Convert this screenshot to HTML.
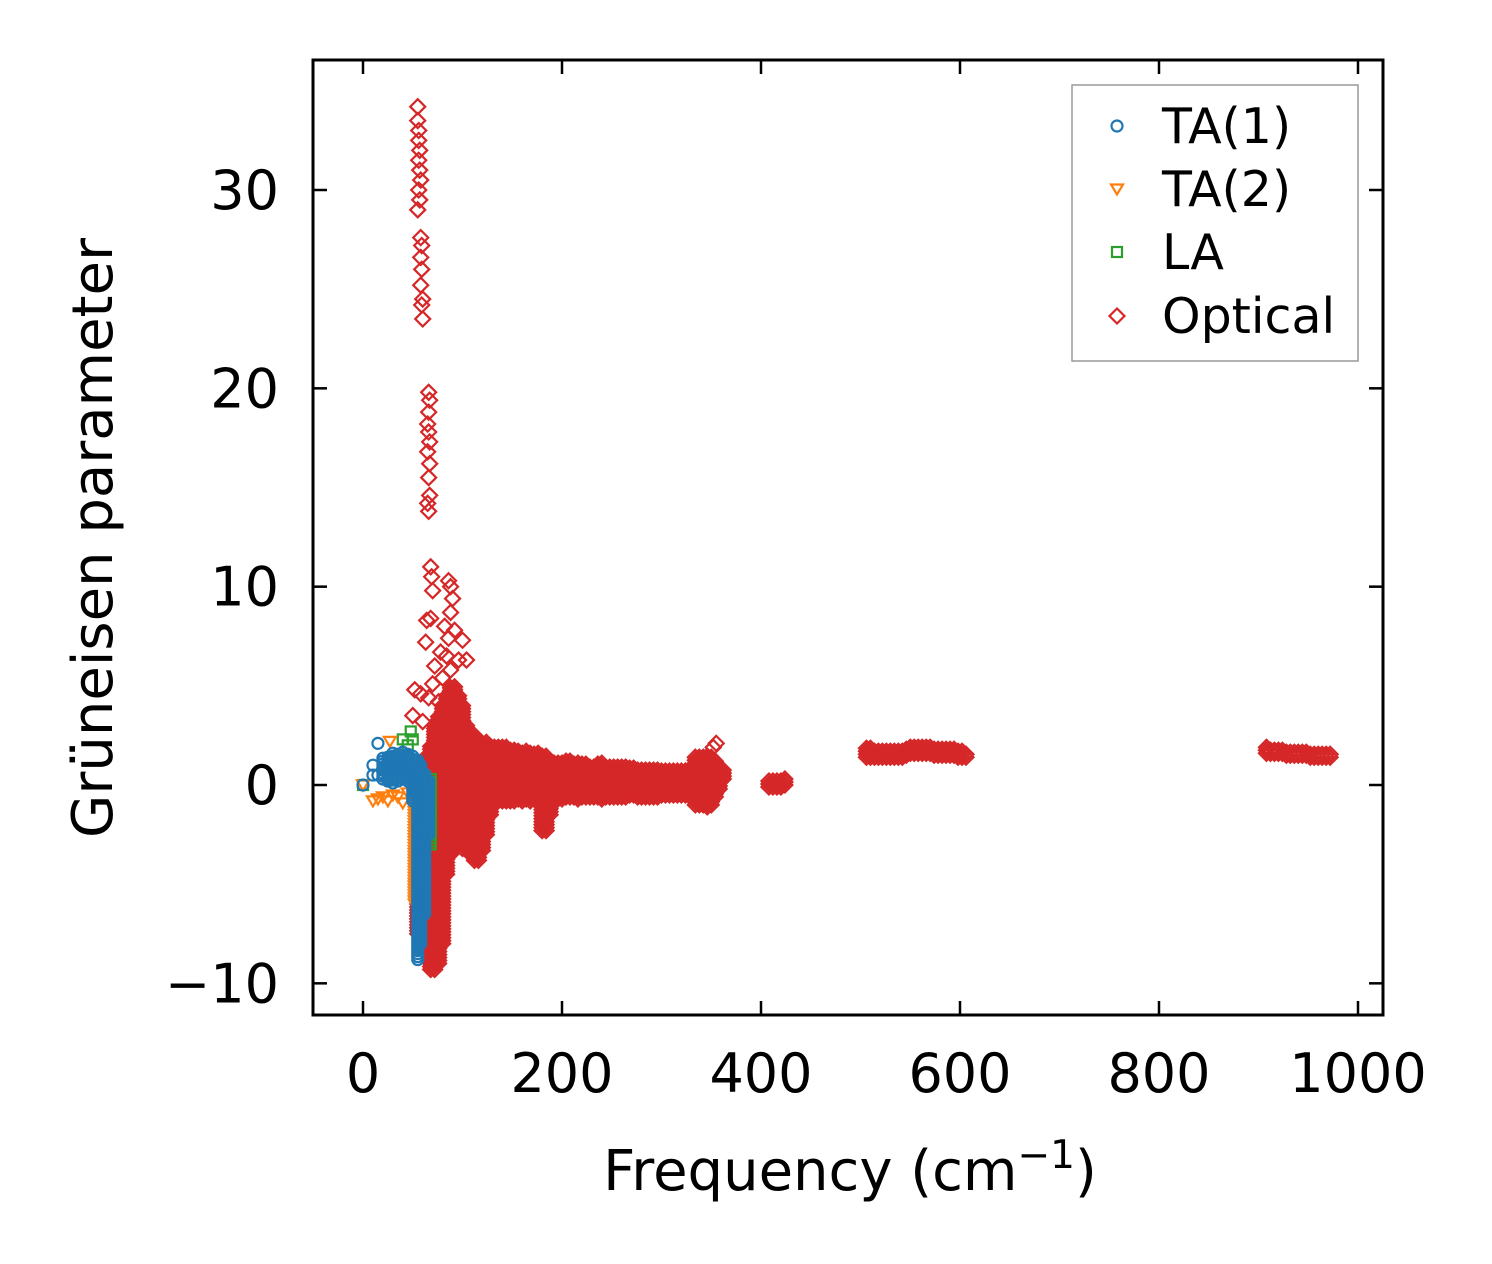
<!DOCTYPE html>
<html><head><meta charset="utf-8">
<style>
body{margin:0;background:#fff}
svg{display:block;font-family:"DejaVu Sans","Liberation Sans",sans-serif}
</style></head>
<body>
<svg id="chart" width="1492" height="1264" viewBox="0 0 1492 1264" xmlns="http://www.w3.org/2000/svg">
<rect width="1492" height="1264" fill="#fff"/>
<g id="marks"></g>
<g id="axes"></g>
</svg>
<script>
const xTicks=[0,200,400,600,800,1000];
const yTicks=[-10,0,10,20,30];
const yTickLabels=["\u221210","0","10","20","30"];
// Band envelopes: [frequency, gammaMin, gammaMax]
const opticalBands=[[55,-7.5,0.5],[60,-8,1],[64,-5,1.5],[68,-9.3,2],[72,-9.3,3],[76,-9,3.5],[80,-8,4],[84,-4.5,4.5],[88,-3.5,5],[92,-3,5],[96,-3,4.5],[100,-3.2,4],[104,-3,3],[108,-3.5,2.5],[112,-3.8,2.5],[116,-3.8,2.3],[120,-3.3,2.2],[124,-2.5,2.2],[128,-1.5,2],[132,-0.8,2],[136,-0.8,2],[140,-0.8,1.9],[144,-0.8,1.9],[148,-0.8,1.8],[152,-0.8,1.8],[156,-0.7,1.8],[160,-0.8,1.7],[164,-0.7,1.7],[168,-0.8,1.7],[172,-0.7,1.6],[176,-0.8,1.6],[180,-2.3,1.5],[184,-2.3,1.5],[188,-1.5,1.3],[192,-0.7,1.2],[196,-0.7,1.2],[200,-0.7,1.2],[204,-0.6,1.2],[208,-0.6,1.2],[212,-0.6,1.1],[216,-0.7,1.1],[220,-0.6,1.1],[224,-0.6,1.1],[228,-0.6,1.0],[232,-0.6,1.0],[236,-0.6,1.1],[240,-0.7,1.1],[244,-0.6,1.0],[248,-0.6,1.0],[252,-0.6,0.9],[256,-0.6,0.9],[260,-0.6,0.9],[264,-0.6,0.9],[268,-0.5,0.9],[272,-0.5,0.9],[276,-0.6,0.8],[280,-0.6,0.8],[284,-0.6,0.8],[288,-0.6,0.8],[292,-0.6,0.8],[296,-0.6,0.8],[300,-0.5,0.8],[304,-0.5,0.8],[308,-0.5,0.8],[312,-0.5,0.8],[316,-0.5,0.7],[320,-0.5,0.7],[324,-0.5,0.7],[328,-0.5,0.8],[334,-1,1.5],[338,-1,1.5],[342,-1,1.5],[346,-1.1,1.5],[350,-1,1.4],[354,-0.6,1.2],[358,-0.2,0.9],[362,0.3,0.8],[408,-0.1,0.3],[412,-0.1,0.3],[416,-0.1,0.3],[420,-0.1,0.3],[424,0,0.3],[506,1.4,1.9],[510,1.4,1.9],[514,1.4,1.8],[518,1.4,1.8],[522,1.4,1.8],[526,1.4,1.8],[530,1.4,1.8],[534,1.4,1.8],[538,1.4,1.7],[542,1.4,1.7],[546,1.5,1.8],[550,1.6,2.0],[554,1.6,2.0],[558,1.6,2.0],[562,1.6,2.0],[566,1.6,1.9],[570,1.6,1.9],[574,1.5,1.9],[578,1.5,1.9],[582,1.5,1.8],[586,1.5,1.8],[590,1.5,1.8],[594,1.5,1.8],[598,1.4,1.7],[602,1.4,1.7],[606,1.4,1.6],[908,1.6,1.9],[912,1.6,1.8],[916,1.6,1.8],[920,1.6,1.8],[924,1.6,1.8],[928,1.5,1.7],[932,1.5,1.7],[936,1.5,1.7],[940,1.5,1.7],[944,1.5,1.7],[948,1.5,1.7],[952,1.4,1.6],[956,1.4,1.6],[960,1.4,1.6],[964,1.4,1.6],[968,1.4,1.6],[972,1.4,1.6]];
const opticalPoints=[[55,34.2],[55,33.5],[56,33],[56,32.5],[57,32],[56,31.5],[57,31],[58,30.5],[56,30],[57,29.5],[55,29],[58,27.6],[59,27.2],[58,26.6],[59,26],[58,25.2],[60,24.5],[59,24.2],[60,23.5],[66,19.8],[67,19.4],[66,18.8],[65,18.2],[66,17.8],[67,17.3],[65,16.8],[67,16.2],[66,15.5],[67,14.6],[65,14.2],[66,13.8],[68,11],[69,10.5],[86,10.3],[88,10],[70,9.8],[90,9.4],[88,8.7],[68,8.4],[64,8.3],[82,8],[92,7.8],[86,7.4],[63,7.2],[100,7.3],[78,6.7],[84,6.5],[96,6.3],[104,6.3],[72,6],[88,5.8],[80,5.4],[70,5.1],[52,4.8],[58,4.6],[66,4.4],[76,4.2],[50,3.5],[60,3.2],[352,1.9],[355,2.1]];
const ta1Bands=[[20,0.3,1.4],[25,0.2,1.5],[30,0.1,1.6],[35,0.2,1.6],[40,0.3,1.7],[45,0.2,1.6],[50,-0.8,1.5],[55,-8.8,1.3],[58,-8,1],[62,-6.5,0.6],[66,-2.5,0.3]];
const ta1Points=[[0,0],[10,0.5],[10,1],[15,2.1],[20,0.8],[25,0.3],[15,0.5],[27,1.2]];
const ta2Bands=[[52,-6,0],[58,-5,0],[62,-3,0]];
const ta2Points=[[0,0],[10,-0.8],[15,-0.7],[20,-0.6],[25,-0.8],[30,-0.5],[35,-0.6],[40,-0.9],[27,2.2],[45,-0.4]];
const laBands=[[56,-7,0.5],[62,-6,0.5],[68,-3,0.4]];
const laPoints=[[0,0],[40,2.3],[48,2.7],[50,2.3],[45,2.0]];

const X0=313,X1=1383,Y0=60,Y1=1015;
const xs=f=>363+(f-0)*(1358-363)/1000;
const ys=g=>785-g*(785-190)/30;
const NS="http://www.w3.org/2000/svg";
const marks=document.getElementById('marks');
const axes=document.getElementById('axes');
function el(t,a,p){const e=document.createElementNS(NS,t);for(const k in a)e.setAttribute(k,a[k]);p.appendChild(e);return e;}

function marker(kind,cx,cy,color,parent){
  let e;
  if(kind==='circle') e=el('circle',{cx:cx,cy:cy,r:5.5,fill:'none',stroke:color,'stroke-width':2.2},parent);
  else if(kind==='tri') e=el('polygon',{points:`${cx-6},${cy-4.5} ${cx+6},${cy-4.5} ${cx},${cy+5.5}`,fill:'none',stroke:color,'stroke-width':2.2},parent);
  else if(kind==='square') e=el('rect',{x:cx-5,y:cy-5,width:10,height:10,fill:'none',stroke:color,'stroke-width':2.2},parent);
  else e=el('polygon',{points:`${cx},${cy-7.5} ${cx+7.5},${cy} ${cx},${cy+7.5} ${cx-7.5},${cy}`,fill:'none',stroke:color,'stroke-width':2.2},parent);
  return e;
}
function series(name,kind,color,bands,points){
  const g=el('g',{},marks);
  
  
  bands.forEach(b=>{
    for(let v=b[1];v<=b[2]+1e-9;v+=0.15){
      const m=marker(kind,xs(b[0]),ys(v),color,g);
      
      
    }
  });
  points.forEach(p=>{
    const m=marker(kind,xs(p[0]),ys(p[1]),color,g);
    
    
  });
}
series('optical','diamond','#d62728',opticalBands,opticalPoints);
series('la','square','#2ca02c',laBands,laPoints);
series('ta2','tri','#ff7f0e',ta2Bands,ta2Points);
series('ta1','circle','#1f77b4',ta1Bands,ta1Points);

const fr=el('rect',{x:X0,y:Y0,width:X1-X0,height:Y1-Y0,fill:'none',stroke:'#000','stroke-width':3},axes);


xTicks.forEach(t=>{
  const x=xs(t);
  el('line',{x1:x,y1:Y1,x2:x,y2:Y1-14,stroke:'#000','stroke-width':2.5},axes);
  el('line',{x1:x,y1:Y0,x2:x,y2:Y0+14,stroke:'#000','stroke-width':2.5},axes);
  const tx=el('text',{x:x,y:1092,'font-size':54,'text-anchor':'middle',fill:'#000'},axes);
  tx.textContent=t;
  
  
});
yTicks.forEach((t,i)=>{
  const y=ys(t);
  el('line',{x1:X0,y1:y,x2:X0+14,y2:y,stroke:'#000','stroke-width':2.5},axes);
  el('line',{x1:X1,y1:y,x2:X1-14,y2:y,stroke:'#000','stroke-width':2.5},axes);
  const tx=el('text',{x:279,y:y+19,'font-size':54,'text-anchor':'end',fill:'#000'},axes);
  tx.textContent=yTickLabels[i];
  
  
});
const xl=el('text',{x:850,y:1190,'font-size':56,'text-anchor':'middle',fill:'#000'},axes);
xl.innerHTML='Frequency (cm<tspan dy="-22" font-size="39">\u22121</tspan><tspan dy="22">)</tspan>';


const yl=el('text',{x:0,y:0,'font-size':56,'text-anchor':'middle',fill:'#000',transform:'translate(112,538) rotate(-90)'},axes);
yl.textContent='Grüneisen parameter';



const lg=el('g',{},axes);


el('rect',{x:1072,y:85,width:286,height:276,fill:'#fff',stroke:'#999','stroke-width':1.5},lg);
const leg=[['TA(1)','circle','#1f77b4',126],['TA(2)','tri','#ff7f0e',189],['LA','square','#2ca02c',252],['Optical','diamond','#d62728',316]];
leg.forEach(l=>{
  const m=marker(l[1],1117,l[3],l[2],lg);
  
  
  const t=el('text',{x:1162,y:l[3]+17,'font-size':49,fill:'#000'},lg);
  t.textContent=l[0];
  
  
});
</script>
</body></html>
